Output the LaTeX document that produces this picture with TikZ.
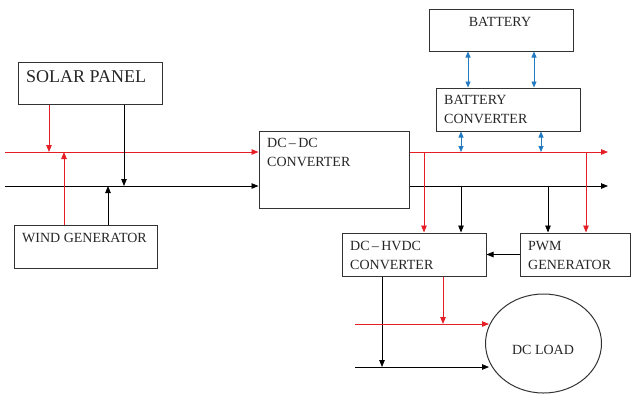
\documentclass[tikz,border=0pt]{standalone}
\usepackage{fontspec}
\setmainfont{Liberation Serif}
\usepackage{xcolor}
\usepackage{tikz}
\usetikzlibrary{arrows.meta, positioning, shapes.geometric, calc}

\definecolor{busred}{RGB}{228,30,36}
\definecolor{linkblue}{RGB}{36,122,192}

\begin{document}
\begin{tikzpicture}[
    x=1pt, y=-1pt,
    block/.style={draw=black!80, line width=1pt, inner sep=0pt, minimum width=#1},
    lbl/.style={font=\fontsize{14}{18.5}\selectfont, inner sep=0pt, align=left, text=black!85},
    redarr/.style={-{Triangle[length=7pt, width=5.5pt]}, busred, line width=0.8pt},
    blkarr/.style={-{Triangle[length=7pt, width=5.5pt]}, black, line width=0.8pt},
    bluearr/.style={{Triangle[length=6pt, width=5pt]}-{Triangle[length=6pt, width=5pt]}, linkblue, line width=0.8pt}
]
\useasboundingbox (0,0) rectangle (632,397);

% Sources
\node[block=144pt, minimum height=42pt] (solar) at (90,83) {};
\node[lbl, font=\fontsize{18}{20}\selectfont, anchor=west] (solartxt) at (26,77) {SOLAR PANEL};
\node[block=143pt, minimum height=43pt] (wind) at (85.5,246.5) {};
\node[lbl, anchor=west] (windtxt) at (22,238) {WIND GENERATOR};

% Converters
\node[block=150pt, minimum height=77pt] (dcdc) at (334,169.5) {};
\node[lbl, anchor=north west] (dcdctxt) at (267,138.5) {DC\,--\,DC\\CONVERTER};
\node[block=144pt, minimum height=42pt] (battery) at (501,30) {};
\node[lbl] (batterytxt) at (500,22) {BATTERY};
\node[block=144pt, minimum height=43pt] (batconv) at (508,109.5) {};
\node[lbl, anchor=north west] (batconvtxt) at (444,95.4) {BATTERY\\CONVERTER};
\node[block=144pt, minimum height=43pt] (hvdc) at (414,254.5) {};
\node[lbl, anchor=north west] (hvdctxt) at (350,241.4) {DC\,--\,HVDC\\CONVERTER};
\node[block=110pt, minimum height=43pt] (pwm) at (575,254.5) {};
\node[lbl, anchor=north west] (pwmtxt) at (528,241.4) {PWM\\GENERATOR};

% Load
\node[ellipse, draw=black!80, line width=1pt, minimum width=116pt, minimum height=99pt, inner sep=0pt] (load) at (543.5,343.5) {};
\node[lbl] (loadtxt) at (543,350) {DC LOAD};

% Bus ends and tap points
\coordinate (rin) at (5,152);
\coordinate (bin) at (5,186);
\coordinate (rout) at (608,152);
\coordinate (bout) at (608,186);
\coordinate (sr) at (49,152);
\coordinate (sb) at (124,186);
\coordinate (wr) at (64,152);
\coordinate (wb) at (108,186);
\coordinate (xa) at (468,0);
\coordinate (xb) at (534,0);
\coordinate (xc) at (461,0);
\coordinate (xd) at (541,0);
\coordinate (xe) at (424,0);
\coordinate (xf) at (548,0);
\coordinate (xg) at (586,0);
\coordinate (ldr) at (355,324);
\coordinate (ldb) at (355,367);
\coordinate (hr) at (443,324);
\coordinate (hb) at (382,367);

% Input buses
\draw[redarr] (rin) -- (rin -| dcdc.west);
\draw[blkarr] (bin) -- (bin -| dcdc.west);
\draw[redarr] (sr |- solar.south) -- (sr);
\draw[blkarr] (sb |- solar.south) -- (sb);
\draw[redarr] (wr |- wind.north) -- (wr);
\draw[blkarr] (wb |- wind.north) -- (wb);

% Output buses
\draw[redarr] (rout -| dcdc.east) -- (rout);
\draw[blkarr] (bout -| dcdc.east) -- (bout);

% Battery links
\draw[bluearr] (xa |- battery.south) -- (xa |- batconv.north);
\draw[bluearr] (xb |- battery.south) -- (xb |- batconv.north);
\draw[bluearr] (xc |- batconv.south) -- (xc |- rout);
\draw[bluearr] (xd |- batconv.south) -- (xd |- rout);

% Taps to HVDC converter and PWM
\draw[redarr] (xe |- rout) -- (xe |- hvdc.north);
\draw[blkarr] (xc |- bout) -- (xc |- hvdc.north);
\draw[blkarr] (xf |- bout) -- (xf |- pwm.north);
\draw[redarr] (xg |- rout) -- (xg |- pwm.north);
\draw[blkarr] (pwm.west) -- (hvdc.east);

% To the load
\draw[redarr] (hr |- hvdc.south) -- (hr);
\draw[blkarr] (hb |- hvdc.south) -- (hb);
\draw[redarr] (ldr) -- ([xshift=4pt]ldr -| load.west);
\draw[blkarr] (ldb) -- ([xshift=4pt]ldb -| load.west);

\end{tikzpicture}
\end{document}
